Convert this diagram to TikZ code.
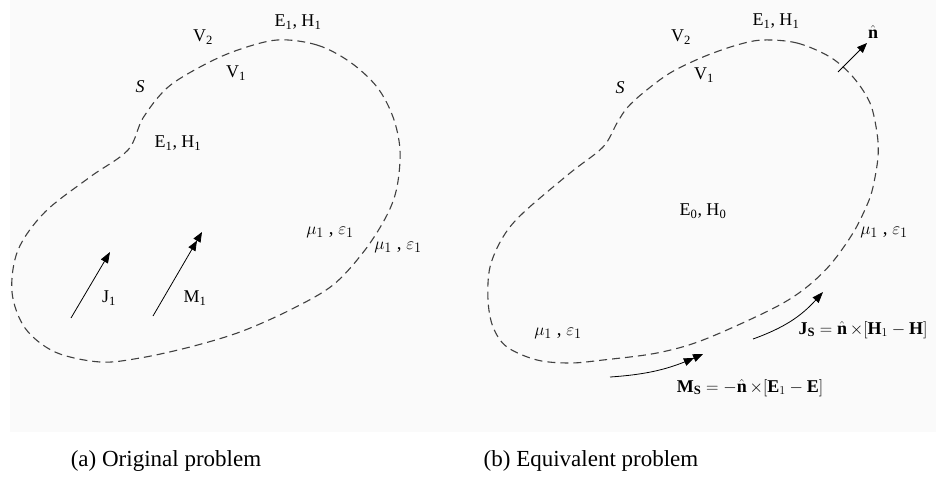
\documentclass[tikz,border=0pt]{standalone}
\usepackage{fontspec}
\setmainfont{Liberation Serif}
\usepackage{amsmath}
\usetikzlibrary{arrows.meta}

\begin{document}
\begin{tikzpicture}[x=1pt,y=-1pt,
          surf/.style={draw=black!75,line width=1.1pt,dash pattern=on 8pt off 5pt},
          lbl/.style={font=\fontsize{18}{20}\selectfont,inner sep=0pt},
          mlbl/.style={font=\fontsize{19}{21}\selectfont,inner sep=0pt},
          blbl/.style={font=\fontsize{18}{20}\selectfont,inner sep=0pt},
          captxt/.style={font=\fontsize{23}{26}\selectfont,inner sep=0pt},
          src/.style={line width=0.8pt,-{Triangle[length=11pt,width=8pt]}},
          srcd/.style={line width=0.8pt,
                       -{Triangle[length=10pt,width=8pt]Triangle[length=10pt,width=8pt]}},
        ]
        \fill[black!2] (10,0) rectangle (936,432);
        \useasboundingbox (0,0) rectangle (936,488);

        % (a) ORIGINAL PROBLEM
        \draw[surf] plot[smooth cycle,tension=0.55] coordinates{
          (277,40) (317,45) (350,62) (377,87) (393,117) (400,150) (397,187)
          (387,215) (365,250) (333,285) (290,310) (240,332) (190,347)
          (140,358) (100,362) (55,352) (25,328) (12,292) (18,250) (45,212)
          (90,177) (128,150) (143,118) (167,88) (200,67) (235,51)};
        \node[lbl] (eha)  at (298,22)  {E\textsubscript{1}, H\textsubscript{1}};
        \node[lbl] (v2a)  at (203,37)  {V\textsubscript{2}};
        \node[lbl] (v1a)  at (236,73)  {V\textsubscript{1}};
        \node[lbl] (sa)   at (140,87)  {\textit{S}};
        \node[lbl] (ehia) at (178,143) {E\textsubscript{1}, H\textsubscript{1}};
        \node[mlbl] (mia) at (330,232) {$\mu_1$ , $\varepsilon_1$};
        \node[mlbl] (moa) at (398,247) {$\mu_1$ , $\varepsilon_1$};
        \coordinate (j0) at (71,318);
        \coordinate (j1) at (110,252);
        \coordinate (m0) at (153,316);
        \coordinate (m1) at (202,232);
        \draw[src]  (j0) -- (j1);
        \draw[srcd] (m0) -- (m1);
        \node[lbl] (jl) at (109,298) {J\textsubscript{1}};
        \node[lbl] (ml) at (195,298) {M\textsubscript{1}};
        \node[captxt] (capa) at (166,461) {(a) Original problem};

        % (b) EQUIVALENT PROBLEM
        \draw[surf] plot[smooth cycle,tension=0.55] coordinates{
          (763,40) (797,43) (830,57) (853,77) (870,103) (877,133) (878,157)
          (873,187) (867,205) (853,233) (830,265) (803,290) (770,310)
          (703,340) (657,353) (603,360) (570,363) (537,360) (507,347)
          (493,327) (488,300) (490,267) (503,237) (523,213) (570,173)
          (603,147) (617,123) (627,108) (643,93) (670,73) (703,57) (737,45)};
        \node[lbl] (ehb)  at (776,21)  {E\textsubscript{1}, H\textsubscript{1}};
        \node[lbl] (v2b)  at (681,37)  {V\textsubscript{2}};
        \node[lbl] (v1b)  at (704,75)  {V\textsubscript{1}};
        \node[lbl] (sb)   at (620,88)  {\textit{S}};
        \node[lbl] (ehob) at (703,211) {E\textsubscript{0}, H\textsubscript{0}};
        \node[mlbl] (mrb) at (884,232) {$\mu_1$ , $\varepsilon_1$};
        \node[mlbl] (mlb) at (558,333) {$\mu_1$ , $\varepsilon_1$};
        \coordinate (n0) at (838,72);
        \coordinate (n1) at (867,43);
        \draw[line width=0.8pt,-{Triangle[length=10pt,width=8pt]}] (n0) -- (n1);
        \node[blbl] (nl) at (873,32) {$\hat{\mathbf{n}}$};
        \coordinate (js0) at (753,339);
        \coordinate (js1) at (823,292);
        \draw[src] (js0) to[bend right=14] (js1);
        \node[blbl] (jsl) at (863,330)
          {$\mathbf{J}_{\mathbf{S}}=\hat{\mathbf{n}}\,{\times}[\mathbf{H}_1-\mathbf{H}]$};
        \coordinate (ms0) at (610,377);
        \coordinate (ms1) at (703,354);
        \draw[srcd] (ms0) to[bend right=10] (ms1);
        \node[blbl] (msl) at (750,388)
          {$\mathbf{M}_{\mathbf{S}}=-\hat{\mathbf{n}}\,{\times}[\mathbf{E}_1-\mathbf{E}]$};
        \node[captxt] (capb) at (591,461) {(b) Equivalent problem};
      \end{tikzpicture}
\end{document}
